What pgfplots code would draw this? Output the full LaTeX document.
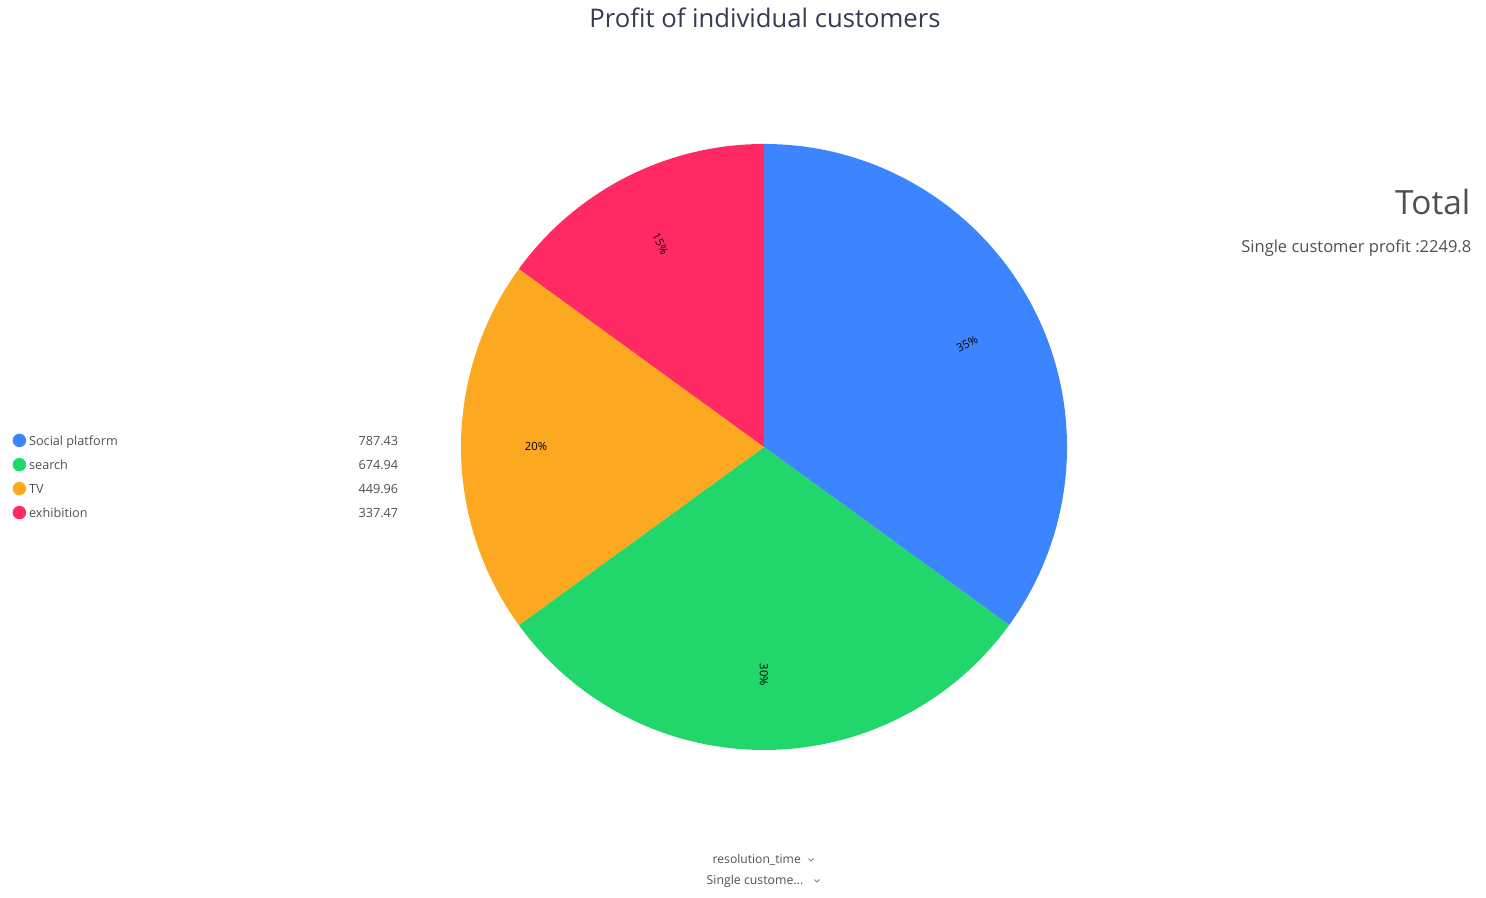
\documentclass[border=0pt]{standalone}
\usepackage{pgfplots}
\pgfplotsset{compat=1.18}
\usepackage{pgfplotstable}
\usepackage{fontspec}
\setmainfont{Open Sans}
\definecolor{cBlue}{RGB}{61,133,255}
\definecolor{cGreen}{RGB}{33,215,108}
\definecolor{cOrange}{RGB}{252,169,33}
\definecolor{cRed}{RGB}{255,42,100}
\definecolor{cTitle}{RGB}{51,60,80}
\definecolor{cText}{RGB}{80,80,80}

% values of the four slices
\pgfplotstableread{
label value
Social 787.43
search 674.94
TV 449.96
exhibition 337.47
}\piedata

\begin{document}
\begin{tikzpicture}
\pgfmathsetmacro{\va}{787.43}
\pgfmathsetmacro{\vb}{674.94}
\pgfmathsetmacro{\vc}{449.96}
\pgfmathsetmacro{\vd}{337.47}
\pgfmathsetmacro{\tot}{\va+\vb+\vc+\vd}
\pgfmathsetmacro{\aA}{90}
\pgfmathsetmacro{\aB}{\aA-360*(\va/\tot)}
\pgfmathsetmacro{\aC}{\aB-360*(\vb/\tot)}
\pgfmathsetmacro{\aD}{\aC-360*(\vc/\tot)}
\pgfmathsetmacro{\aE}{\aD-360*(\vd/\tot)}
\def\R{3.03}
\def\rl{2.28}
\begin{axis}[
  x=1cm, y=1cm,
  xmin=-7.64, xmax=7.22, ymin=-4.51, ymax=4.47,
  hide axis, clip=false,
  at={(0,0)}, anchor=south west,
  legend image code/.code={\fill[#1] (0cm,0.025cm) circle (0.06cm);},
  legend style={at={(axis cs:-7.52,-0.32)}, anchor=west, draw=none, fill=none,
    font=\fontsize{3.6}{4.3}\selectfont\color{cText},
    row sep=-1.35pt, inner sep=0pt,
    /tikz/every even column/.append style={column sep=0pt}},
  legend cell align=left,
]
\path (axis cs:-7.64,-4.51) rectangle (axis cs:7.22,4.47);
\fill[cBlue]   (axis cs:0,0) -- (axis cs:{\R*cos(\aA)},{\R*sin(\aA)}) arc[start angle=\aA, end angle=\aB, radius=\R] -- cycle;
\fill[cGreen]  (axis cs:0,0) -- (axis cs:{\R*cos(\aB)},{\R*sin(\aB)}) arc[start angle=\aB, end angle=\aC, radius=\R] -- cycle;
\fill[cOrange] (axis cs:0,0) -- (axis cs:{\R*cos(\aC)},{\R*sin(\aC)}) arc[start angle=\aC, end angle=\aD, radius=\R] -- cycle;
\fill[cRed]    (axis cs:0,0) -- (axis cs:{\R*cos(\aD)},{\R*sin(\aD)}) arc[start angle=\aD, end angle=\aE, radius=\R] -- cycle;

\pgfmathsetmacro{\mA}{(\aA+\aB)/2}
\pgfmathsetmacro{\mB}{(\aB+\aC)/2}
\pgfmathsetmacro{\mC}{(\aC+\aD)/2}
\pgfmathsetmacro{\mD}{(\aD+\aE)/2}
\node[font=\fontsize{3.2}{3.6}\selectfont, rotate=\mA] at (axis cs:{\rl*cos(\mA)},{\rl*sin(\mA)}) {35\%};
\node[font=\fontsize{3.2}{3.6}\selectfont, rotate=\mB] at (axis cs:{\rl*cos(\mB)},{\rl*sin(\mB)}) {30\%};
\node[font=\fontsize{3.2}{3.6}\selectfont, rotate=\mC+180] at (axis cs:{\rl*cos(\mC)},{\rl*sin(\mC)}) {20\%};
\node[font=\fontsize{3.2}{3.6}\selectfont, rotate=\mD+180] at (axis cs:{\rl*cos(\mD)},{\rl*sin(\mD)}) {15\%};

\addlegendimage{cBlue}
\addlegendentry{\makebox[3.65cm][l]{\hspace{-0.04cm}Social platform\hfill 787.43}}
\addlegendimage{cGreen}
\addlegendentry{\makebox[3.65cm][l]{\hspace{-0.04cm}search\hfill 674.94}}
\addlegendimage{cOrange}
\addlegendentry{\makebox[3.65cm][l]{\hspace{-0.04cm}TV\hfill 449.96}}
\addlegendimage{cRed}
\addlegendentry{\makebox[3.65cm][l]{\hspace{-0.04cm}exhibition\hfill 337.47}}

\node[font=\fontsize{7.3}{8.5}\selectfont, text=cTitle] at (axis cs:0.01,4.29) {Profit of individual customers};
\node[font=\fontsize{9.5}{11}\selectfont, text=cText, anchor=east, inner sep=0pt] at (axis cs:7.07,2.45) {Total};
\node[font=\fontsize{4.7}{5.5}\selectfont, text=cText, anchor=east, inner sep=0pt] at (axis cs:7.08,1.99) {Single customer profit :2249.8};

\node[font=\fontsize{3.45}{4.2}\selectfont, text=cText, anchor=west, inner sep=0pt] at (axis cs:-0.52,-4.13) {resolution\_time};
\draw[cText!70, line width=0.25pt] (axis cs:0.445,-4.115) -- (axis cs:0.47,-4.14) -- (axis cs:0.495,-4.115);
\node[font=\fontsize{3.5}{4.2}\selectfont, text=cText, anchor=west, inner sep=0pt] at (axis cs:-0.58,-4.34) {Single custome...};
\draw[cText!70, line width=0.25pt] (axis cs:0.505,-4.325) -- (axis cs:0.53,-4.35) -- (axis cs:0.555,-4.325);
\end{axis}
\pgfresetboundingbox
\path[use as bounding box] (0,0) rectangle (14.86,8.98);
\end{tikzpicture}
\end{document}
